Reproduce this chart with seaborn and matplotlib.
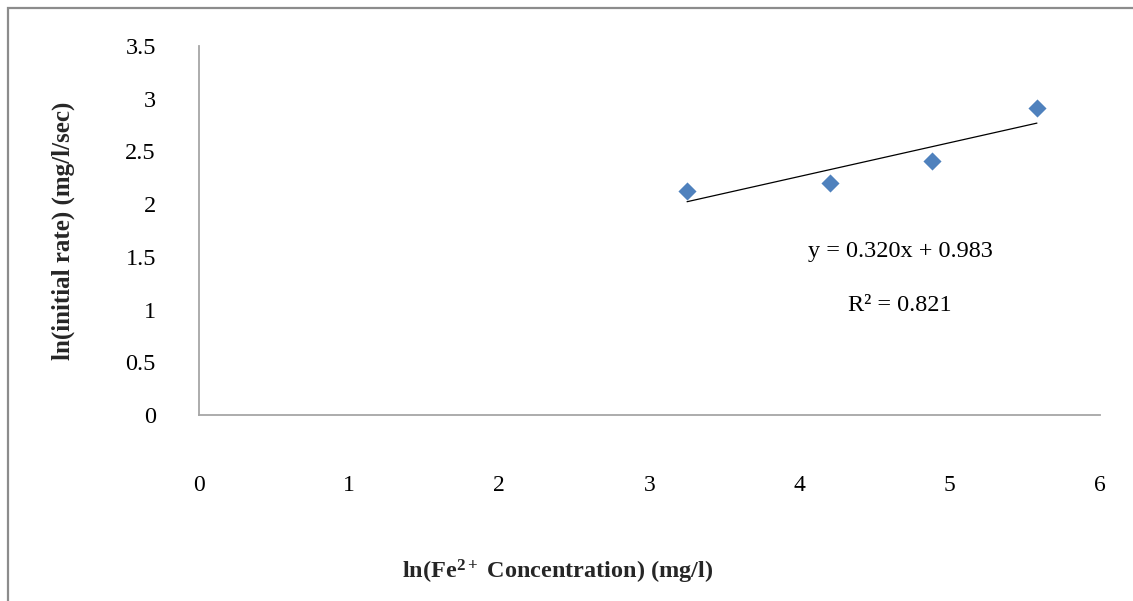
import matplotlib
matplotlib.use("Agg")
import matplotlib.pyplot as plt
from matplotlib.patches import Rectangle
import numpy as np
import pandas as pd
import seaborn as sns

# Measured kinetics data (natural logs)
ln_conc = [3.25, 4.20, 4.88, 5.58]
ln_rate = [2.12, 2.20, 2.41, 2.91]

# Linear trendline coefficients
slope = 0.320
intercept = 0.983
r_squared = 0.821

x_ticks = [0, 1, 2, 3, 4, 5, 6]
y_ticks = [0, 0.5, 1, 1.5, 2, 2.5, 3, 3.5]
y_tick_labels = ["0", "0.5", "1", "1.5", "2", "2.5", "3", "3.5"]

sns.set_theme(style="white")
plt.rcParams["font.family"] = ["Liberation Serif", "DejaVu Serif"]
plt.rcParams["mathtext.fontset"] = "custom"
plt.rcParams["mathtext.rm"] = "Liberation Serif:bold"
plt.rcParams["mathtext.it"] = "Liberation Serif:bold"
plt.rcParams["mathtext.bf"] = "Liberation Serif:bold"

W, H = 1133, 601
fig = plt.figure(figsize=(W / 100, H / 100), dpi=100)
fig.patch.set_facecolor("white")
ax = fig.add_axes([199 / W, 1 - 415 / H, (1100 - 199) / W, (415 - 46) / H])

df = pd.DataFrame({"x": ln_conc, "y": ln_rate})
sns.scatterplot(data=df, x="x", y="y", ax=ax, marker="D", s=85,
                color="#4F81BD", edgecolor="#4F81BD", linewidth=0, zorder=3)

trend = pd.DataFrame({"x": [min(ln_conc), max(ln_conc)]})
trend["y"] = slope * trend["x"] + intercept
sns.lineplot(data=trend, x="x", y="y", ax=ax, color="black", linewidth=0.9, zorder=2)

ax.set_xlim(0, 6)
ax.set_ylim(0, 3.5)
ax.set_xticks(x_ticks)
ax.set_xticklabels([str(t) for t in x_ticks])
ax.set_yticks(y_ticks)
ax.set_yticklabels(y_tick_labels)
ax.tick_params(axis="x", length=0, pad=43, labelsize=17, colors="black")
ax.tick_params(axis="y", length=0, pad=31, labelsize=17.5, colors="black")
for side in ["top", "right"]:
    ax.spines[side].set_visible(False)
for side in ["left", "bottom"]:
    ax.spines[side].set_color("#a6a6a6")
    ax.spines[side].set_linewidth(1.3)
ax.set_xlabel("")
ax.set_ylabel("ln(initial rate) (mg/l/sec)", fontsize=18, fontweight="bold",
              labelpad=0)
ax.yaxis.set_label_coords((75 - 199) / (1100 - 199), 0.5)
ax.grid(False)

ax.text(4.67, 1.55, f"y = {slope:.3f}x + {intercept:.3f}", fontsize=17.5,
        ha="center", va="center", color="black")
ax.text(4.67, 1.035, f"R² = {r_squared:.3f}", fontsize=17.5,
        ha="center", va="center", color="black")

fig.text(558 / W, 1 - 572 / H, r"ln(Fe$^{2+}$ Concentration) (mg/l)",
         fontsize=17.5, fontweight="bold", ha="center", va="center")

fig.patches.append(Rectangle((8 / W, -0.1), 1.2, (1 - 8 / H) + 0.1,
                             transform=fig.transFigure, fill=False,
                             edgecolor="#8c8c8c", linewidth=1.6, zorder=0))

fig.savefig("out.png", dpi=100, facecolor="white")
